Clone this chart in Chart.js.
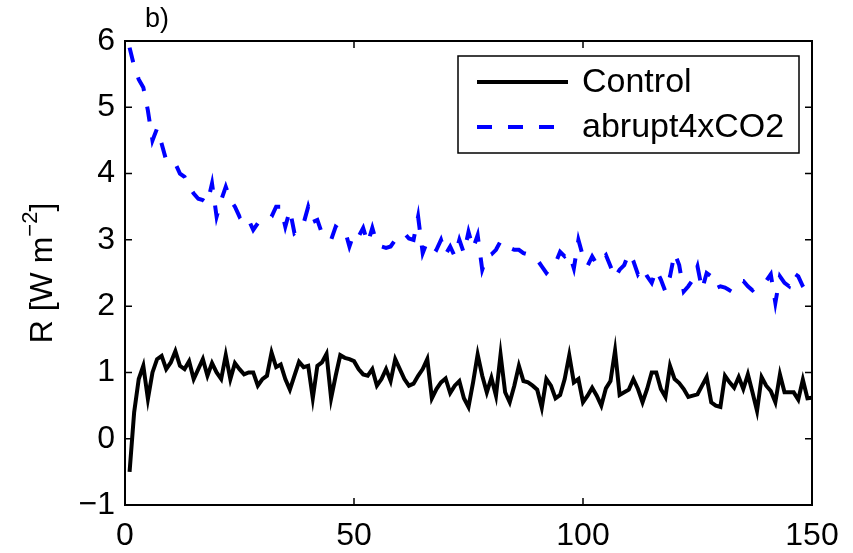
<!DOCTYPE html>
<html>
<head>
<meta charset="utf-8">
<script src="https://cdn.jsdelivr.net/npm/chart.js@4.4.0/dist/chart.umd.min.js"></script>
<style>
  html, body { margin: 0; padding: 0; background: #fff; }
  #wrap { width: 853px; height: 553px; }
</style>
</head>
<body>
<div id="wrap"><canvas id="c" width="853" height="553"></canvas></div>
<script>
// --- data ---
const years = Array.from({ length: 150 }, (_, i) => i + 1);

const control = [
  -0.5, 0.4, 0.9, 1.1, 0.6, 1.0, 1.2, 1.25, 1.05, 1.15,
  1.32, 1.1, 1.05, 1.17, 0.9, 1.05, 1.2, 0.95, 1.14, 1.0,
  0.9, 1.26, 0.9, 1.14, 1.05, 0.97, 1.0, 1.0, 0.8, 0.9,
  0.95, 1.3, 1.08, 1.12, 0.9, 0.74, 0.95, 1.16, 1.08, 1.1,
  0.61, 1.1, 1.15, 1.28, 0.61, 0.95, 1.26, 1.22, 1.2, 1.17,
  1.05, 0.97, 0.95, 1.05, 0.8, 0.9, 1.05, 0.87, 1.2, 1.05,
  0.9, 0.8, 0.83, 0.95, 1.05, 1.2, 0.61, 0.75, 0.85, 0.91,
  0.69, 0.8, 0.87, 0.61, 0.48, 0.85, 1.27, 0.95, 0.7, 0.92,
  0.65, 1.27, 0.7, 0.55, 0.8, 1.1, 0.87, 0.85, 0.8, 0.74,
  0.47, 0.9, 0.8, 0.61, 0.66, 0.9, 1.26, 0.85, 0.9, 0.55,
  0.65, 0.77, 0.65, 0.5, 0.76, 0.87, 1.33, 0.66, 0.7, 0.74,
  0.9, 0.75, 0.55, 0.75, 1.0, 1.0, 0.75, 0.63, 1.1, 0.9,
  0.84, 0.75, 0.63, 0.65, 0.67, 0.8, 0.93, 0.55, 0.5, 0.48,
  0.95, 0.85, 0.77, 0.93, 0.75, 0.97, 0.7, 0.42, 0.93, 0.8,
  0.72, 0.55, 0.97, 0.7, 0.7, 0.7, 0.59, 0.89, 0.61, 0.62
];

const abrupt4x = [
  5.9, 5.62, 5.42, 5.3, 4.95, 4.5, 4.68, 4.45, 4.2, 4.15,
  4.15, 4.0, 3.95, 3.8, 3.7, 3.62, 3.6, 3.55, 3.85, 3.35,
  3.6, 3.8, 3.6, 3.5, 3.35, 3.4, 3.3, 3.15, 3.25, 3.25,
  3.3, 3.35, 3.5, 3.5, 3.2, 3.45, 3.1, 3.15, 3.25, 3.5,
  3.27, 3.3, 3.1, 3.05, 3.0, 3.2, 3.15, 3.15, 2.9, 3.1,
  3.05, 3.18, 2.95, 3.18, 2.94, 2.9, 2.88, 2.9, 3.0, 3.05,
  3.1, 3.02, 3.0, 3.35, 2.8, 2.98, 2.9, 2.85, 3.0, 2.78,
  2.9, 2.75, 3.0, 2.8, 3.12, 2.87, 3.07, 2.55, 2.75, 2.78,
  2.85, 2.98, 2.9, 2.88, 2.85, 2.85, 2.8, 2.78, 2.74, 2.7,
  2.6, 2.5, 2.58, 2.65, 2.82, 2.75, 2.8, 2.57, 3.0, 2.75,
  2.61, 2.75, 2.63, 2.7, 2.77, 2.6, 2.43, 2.55, 2.62, 2.8,
  2.68, 2.48, 2.58, 2.45, 2.35, 2.55, 2.4, 2.22, 2.45, 2.8,
  2.62, 2.22, 2.3, 2.4, 2.6, 2.25, 2.5, 2.45, 2.27, 2.3,
  2.28, 2.24, 2.35, 2.38, 2.38, 2.3, 2.24, 2.3, 2.35, 2.38,
  2.48, 2.05, 2.45, 2.35, 2.3, 2.5, 2.45, 2.3, 2.2, 2.15
];

const xTicks = [0, 50, 100, 150];
const yTicks = [-1, 0, 1, 2, 3, 4, 5, 6];

const FONT = '"Liberation Sans", Arial, Helvetica, sans-serif';

// box, inward ticks, y title, panel label, legend
const decorations = {
  id: 'decorations',
  afterDraw(chart) {
    const { ctx, chartArea: a, scales } = chart;
    ctx.save();
    ctx.strokeStyle = '#000';
    ctx.lineWidth = 2;
    ctx.setLineDash([]);
    ctx.strokeRect(a.left, a.top, a.right - a.left, a.bottom - a.top);

    const tl = 7;
    ctx.lineWidth = 1.5;
    ctx.beginPath();
    xTicks.forEach(v => {
      const x = scales.x.getPixelForValue(v);
      ctx.moveTo(x, a.bottom); ctx.lineTo(x, a.bottom - tl);
      ctx.moveTo(x, a.top); ctx.lineTo(x, a.top + tl);
    });
    yTicks.forEach(v => {
      const y = scales.y.getPixelForValue(v);
      ctx.moveTo(a.left, y); ctx.lineTo(a.left + tl, y);
      ctx.moveTo(a.right, y); ctx.lineTo(a.right - tl, y);
    });
    ctx.stroke();

    // y-axis title with superscript
    ctx.fillStyle = '#000';
    ctx.translate(52, (a.top + a.bottom) / 2);
    ctx.rotate(-Math.PI / 2);
    const p1 = 'R [W m', p3 = ']';
    ctx.font = '22px ' + FONT;
    const sup = '\u22122';
    const wSup = ctx.measureText(sup).width;
    ctx.font = '32px ' + FONT;
    const w1 = ctx.measureText(p1).width, w3 = ctx.measureText(p3).width;
    let x0 = -(w1 + wSup + w3) / 2;
    ctx.textBaseline = 'alphabetic';
    ctx.textAlign = 'left';
    ctx.fillText(p1, x0, 0);
    ctx.font = '22px ' + FONT;
    ctx.fillText(sup, x0 + w1, -15);
    ctx.font = '32px ' + FONT;
    ctx.fillText(p3, x0 + w1 + wSup, 0);
    ctx.setTransform(1, 0, 0, 1, 0, 0);

    // panel label
    ctx.font = '27px ' + FONT;
    ctx.fillText('b)', 145, 27);

    // legend
    const lx = 458, ly = 56, lw = 341, lh = 97;
    ctx.fillStyle = '#fff';
    ctx.fillRect(lx, ly, lw, lh);
    ctx.lineWidth = 1.5;
    ctx.strokeStyle = '#000';
    ctx.strokeRect(lx, ly, lw, lh);
    ctx.font = '34px ' + FONT;
    ctx.textBaseline = 'middle';
    chart.data.datasets.forEach((ds, i) => {
      const y = ly + 26 + i * 45;
      ctx.strokeStyle = ds.borderColor;
      ctx.lineWidth = ds.borderWidth;
      ctx.setLineDash(ds.borderDash || []);
      ctx.beginPath();
      ctx.moveTo(477, y); ctx.lineTo(568, y);
      ctx.stroke();
      ctx.setLineDash([]);
      ctx.fillStyle = '#000';
      ctx.fillText(ds.label, 582, y + 1);
    });
    ctx.restore();
  }
};

new Chart(document.getElementById('c'), {
  type: 'line',
  data: {
    labels: years,
    datasets: [
      {
        label: 'Control',
        data: years.map((x, i) => ({ x, y: control[i] })),
        borderColor: '#000',
        borderWidth: 4,
        pointRadius: 0,
        tension: 0
      },
      {
        label: 'abrupt4xCO2',
        data: years.map((x, i) => ({ x, y: abrupt4x[i] })),
        borderColor: '#0000ff',
        borderWidth: 4,
        borderDash: [15, 16],
        pointRadius: 0,
        tension: 0
      }
    ]
  },
  options: {
    responsive: false,
    animation: false,
    layout: { padding: { top: 41, right: 41, left: 0, bottom: 0 } },
    plugins: { legend: { display: false }, tooltip: { enabled: false } },
    scales: {
      x: {
        type: 'linear', min: 0, max: 150,
        grid: { display: false, drawTicks: false },
        border: { display: false },
        afterBuildTicks: s => { s.ticks = xTicks.map(v => ({ value: v })); },
        afterFit: s => { s.height = 48; },
        ticks: { color: '#000', padding: 12, maxRotation: 0, font: { family: FONT, size: 32 } }
      },
      y: {
        min: -1, max: 6,
        grid: { display: false, drawTicks: false },
        border: { display: false },
        afterBuildTicks: s => { s.ticks = yTicks.map(v => ({ value: v })); },
        afterFit: s => { s.width = 125; },
        ticks: {
          color: '#000', padding: 10, font: { family: FONT, size: 32 },
          callback: v => String(v).replace('-', '\u2212')
        }
      }
    }
  },
  plugins: [decorations]
});
</script>
</body>
</html>
